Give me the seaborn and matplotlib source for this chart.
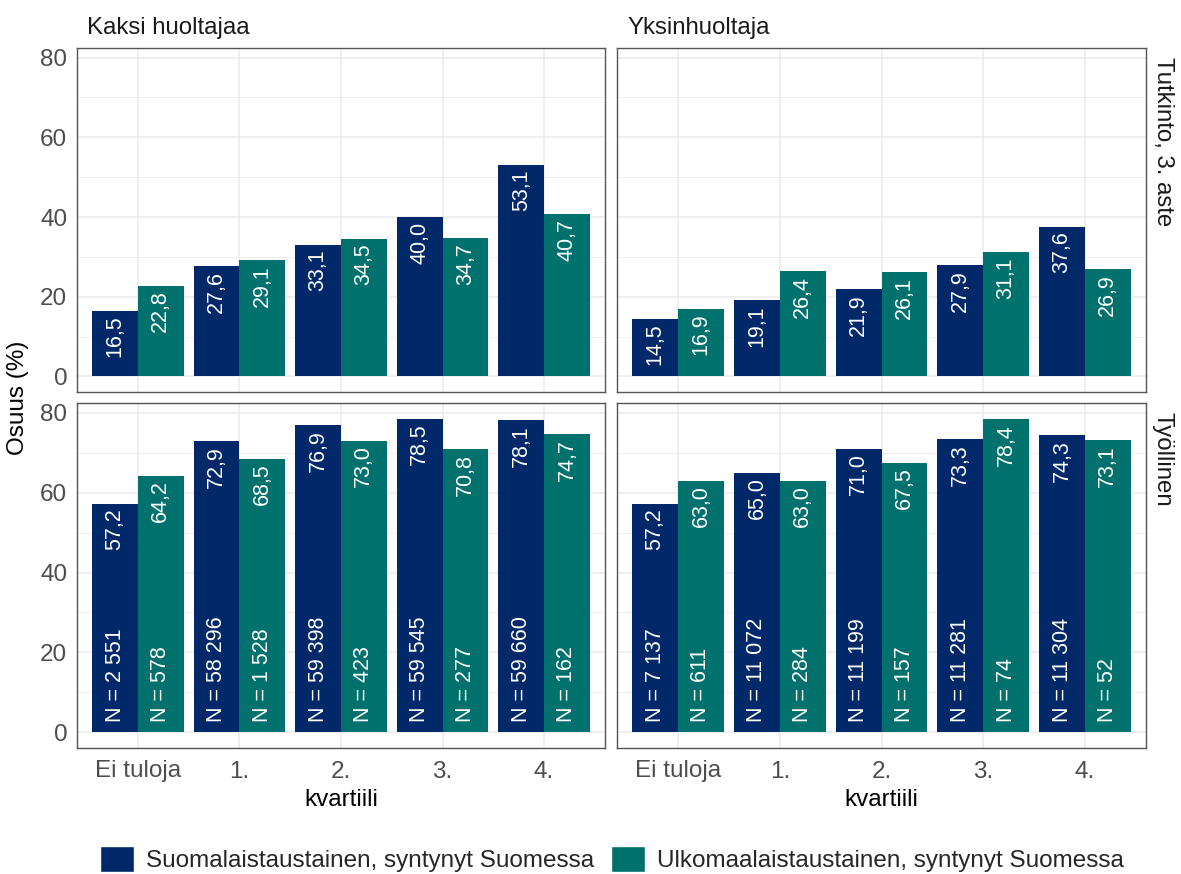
import matplotlib
matplotlib.use("Agg")
import matplotlib.pyplot as plt
from matplotlib.patches import Patch
from matplotlib.ticker import MultipleLocator
import seaborn as sns
import pandas as pd

# ---------------- data ----------------
kvartiilit = ["Ei tuloja", "1.", "2.", "3.", "4."]
taustat = ["Suomalaistaustainen, syntynyt Suomessa", "Ulkomaalaistaustainen, syntynyt Suomessa"]
perheet = ["Kaksi huoltajaa", "Yksinhuoltaja"]
mittarit = ["Tutkinto, 3. aste", "Työllinen"]

tutkinto_kaksi_suom = [16.5, 27.6, 33.1, 40.0, 53.1]
tutkinto_kaksi_ulko = [22.8, 29.1, 34.5, 34.7, 40.7]
tutkinto_yksin_suom = [14.5, 19.1, 21.9, 27.9, 37.6]
tutkinto_yksin_ulko = [16.9, 26.4, 26.1, 31.1, 26.9]
tyollinen_kaksi_suom = [57.2, 72.9, 76.9, 78.5, 78.1]
tyollinen_kaksi_ulko = [64.2, 68.5, 73.0, 70.8, 74.7]
tyollinen_yksin_suom = [57.2, 65.0, 71.0, 73.3, 74.3]
tyollinen_yksin_ulko = [63.0, 63.0, 67.5, 78.4, 73.1]

n_kaksi_suom = [2551, 58296, 59398, 59545, 59660]
n_kaksi_ulko = [578, 1528, 423, 277, 162]
n_yksin_suom = [7137, 11072, 11199, 11281, 11304]
n_yksin_ulko = [611, 284, 157, 74, 52]

values = {
    ("Tutkinto, 3. aste", "Kaksi huoltajaa"): (tutkinto_kaksi_suom, tutkinto_kaksi_ulko),
    ("Tutkinto, 3. aste", "Yksinhuoltaja"): (tutkinto_yksin_suom, tutkinto_yksin_ulko),
    ("Työllinen", "Kaksi huoltajaa"): (tyollinen_kaksi_suom, tyollinen_kaksi_ulko),
    ("Työllinen", "Yksinhuoltaja"): (tyollinen_yksin_suom, tyollinen_yksin_ulko),
}
counts = {
    "Kaksi huoltajaa": (n_kaksi_suom, n_kaksi_ulko),
    "Yksinhuoltaja": (n_yksin_suom, n_yksin_ulko),
}

colors = ["#012868", "#00716C"]

# ---------------- style ----------------
sns.set_theme(style="white")
plt.rcParams["font.family"] = ["Liberation Sans", "DejaVu Sans"]

FS = 17.5
SFS = 17.3
LFS = 15.5
W, H = 1181, 874
fig = plt.figure(figsize=(W / 100, H / 100), dpi=100)

def fx(px):
    return px / W

def fy(py):
    return 1 - py / H

lefts = [(77, 605), (617, 1146)]
tops = [(48, 392), (403, 748)]

def fmt_val(v):
    return f"{v:.1f}".replace(".", ",")

def fmt_n(n):
    return "N = " + f"{n:,}".replace(",", " ")

for r, mittari in enumerate(mittarit):
    for c, perhe in enumerate(perheet):
        x0, x1 = lefts[c]
        y0, y1 = tops[r]
        ax = fig.add_axes([fx(x0), fy(y1), fx(x1 - x0), (y1 - y0) / H])
        s_vals, u_vals = values[(mittari, perhe)]
        df = pd.DataFrame({
            "kvartiili": kvartiilit * 2,
            "tausta": [taustat[0]] * 5 + [taustat[1]] * 5,
            "osuus": list(s_vals) + list(u_vals),
        })
        sns.barplot(data=df, x="kvartiili", y="osuus", hue="tausta",
                    order=kvartiilit, hue_order=taustat, palette=colors,
                    width=0.9, errorbar=None, saturation=1, ax=ax,
                    legend=False, linewidth=0, zorder=2)
        ax.set_ylim(-3.925, 82.425)
        ax.set_xlim(-0.6, 4.6)
        ax.yaxis.set_major_locator(MultipleLocator(20))
        ax.yaxis.set_minor_locator(MultipleLocator(10))
        ax.grid(True, which="major", color="#EBEBEB", linewidth=1.1, zorder=0)
        ax.grid(True, which="minor", axis="y", color="#EBEBEB", linewidth=0.55, zorder=0)
        ax.set_axisbelow(True)
        for sp in ax.spines.values():
            sp.set_color("#555555")
            sp.set_linewidth(1.0)
        ax.set_ylabel("")
        ax.tick_params(axis="both", which="major", labelsize=FS, colors="#333333",
                       length=4, width=1, direction="out", pad=3)
        ax.tick_params(axis="x", which="major", pad=5)
        ax.tick_params(axis="y", which="minor", length=0)
        ax.tick_params(axis="both", labelcolor="#4D4D4D")
        if c == 1:
            ax.tick_params(axis="y", which="both", length=0, labelleft=False)
        if r == 0:
            ax.tick_params(axis="x", which="both", length=0, labelbottom=False)
            ax.set_xlabel("")
        else:
            ax.set_xlabel("kvartiili", fontsize=FS, color="black", labelpad=5)

        # labels from bar geometry
        n_pair = counts[perhe]
        for k, cont in enumerate(ax.containers):
            vals = (s_vals, u_vals)[k]
            for bar, v in zip(cont, vals):
                xc = bar.get_x() + bar.get_width() / 2
                ax.text(xc, bar.get_height() - 1.2, fmt_val(v), rotation=90,
                        ha="center", va="top", color="white", fontsize=LFS, zorder=3)
            if r == 1:
                for bar, n in zip(cont, n_pair[k]):
                    xc = bar.get_x() + bar.get_width() / 2
                    ax.text(xc, 2.6, fmt_n(n), rotation=90, ha="center", va="bottom",
                            color="white", fontsize=LFS, zorder=3)

        if r == 0:
            ax.text(10 / (x1 - x0), 1 + 20 / (y1 - y0), perhe, transform=ax.transAxes,
                    ha="left", va="center", fontsize=SFS, color="#1A1A1A")
        if c == 1:
            ax.text(1 + 17 / (x1 - x0), 1 - 9 / (y1 - y0), mittari, transform=ax.transAxes,
                    rotation=-90, ha="center", va="top", fontsize=SFS, color="#1A1A1A")

fig.text(fx(18), fy(398), "Osuus (%)", rotation=90, ha="center", va="center",
         fontsize=FS, color="black")

handles = [Patch(facecolor=colors[0], label=taustat[0]),
           Patch(facecolor=colors[1], label=taustat[1])]
fig.legend(handles=handles, loc="center", bbox_to_anchor=(fx(612), fy(859)), ncol=2,
           frameon=False, fontsize=FS, handlelength=1.4, handleheight=1.3,
           handletextpad=0.5, columnspacing=0.7, borderpad=0)

fig.savefig("out.png", dpi=100, facecolor="white")
